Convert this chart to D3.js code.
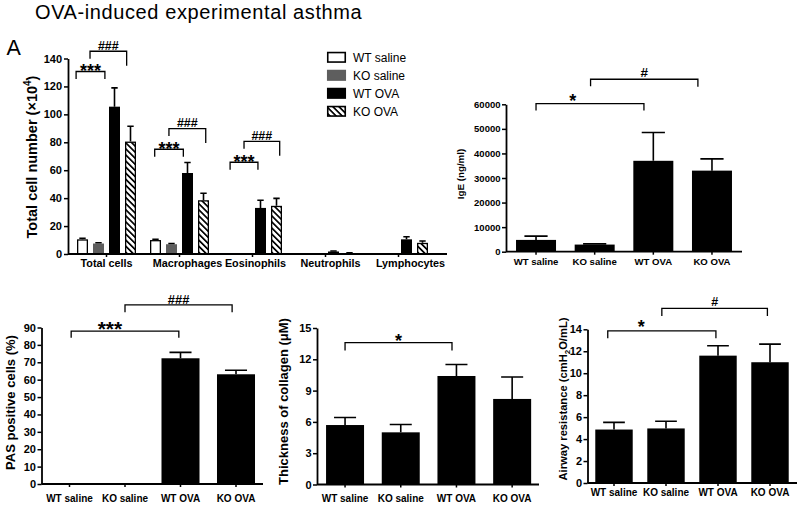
<!DOCTYPE html>
<html><head><meta charset="utf-8">
<script src="https://cdn.jsdelivr.net/npm/d3@7"></script>
<style>
body{margin:0;background:#fff}
svg{display:block}
text{font-family:"Liberation Sans",Arial,Helvetica,sans-serif;fill:#000}
</style>
</head><body>
<svg id="c" width="800" height="507"></svg>
<script>
// ---------------- DATA ----------------
const groups = ["WT saline", "KO saline", "WT OVA", "KO OVA"];
const cellTypes = ["Total cells", "Macrophages", "Eosinophils", "Neutrophils", "Lymphocytes"];
const cellWtSaline = [10.5, 10, 0, 0, 0.3];
const cellKoSaline = [7.5, 7, 0, 0, 0.3];
const cellWtOva = [105.5, 58, 33, 1.8, 10.5];
const cellKoOva = [80.5, 38.5, 34.5, 0.6, 8];
const cellWtSalineSem = [0.8, 0.6, 0, 0, 0];
const cellKoSalineSem = [0.6, 0.5, 0, 0, 0];
const cellWtOvaSem = [13.5, 7.5, 5.5, 0.4, 1.8];
const cellKoOvaSem = [11, 5, 5.3, 0.2, 1.3];
const cellTicks = [0, 20, 40, 60, 80, 100, 120, 140];

const igeMean = [4800, 2900, 37000, 33000];
const igeSem = [1550, 300, 11500, 4800];
const igeTicks = [0, 10000, 20000, 30000, 40000, 50000, 60000];

const pasMean = [0, 0, 72.3, 63.1];
const pasSem = [0, 0, 3.4, 2.3];
const pasTicks = [0, 10, 20, 30, 40, 50, 60, 70, 80, 90];

const collagenMean = [5.7, 5.0, 10.4, 8.2];
const collagenSem = [0.72, 0.75, 1.1, 2.1];
const collagenTicks = [0, 3, 6, 9, 12, 15];

const airwayMean = [4.87, 4.97, 11.6, 11.0];
const airwaySem = [0.65, 0.66, 0.9, 1.65];
const airwayTicks = [0, 2, 4, 6, 8, 10, 12, 14];

// significance brackets: from/to in bar-index units, level in data units
const cellBrackets = [
  {cat: 0, from: -0.4, to: 1.4, level: 130.7, sym: "***", at: 0.5},
  {cat: 0, from: 0.47, to: 2.76, level: 145.2, sym: "###", at: 0.5},
  {cat: 1, from: -0.05, to: 1.74, level: 75, sym: "***", at: 0.5},
  {cat: 1, from: 0.84, to: 3.14, level: 89.8, sym: "###", at: 0.5},
  {cat: 2, from: 0.1, to: 1.84, level: 65.7, sym: "***", at: 0.5},
  {cat: 2, from: 0.97, to: 3.2, level: 80.7, sym: "###", at: 0.5}
];
const igeBrackets = [
  {from: 0, to: 1.84, level: 60300, sym: "*", at: 0.34},
  {from: 0.93, to: 2.76, level: 70200, sym: "#", at: 0.5}
];
const pasBrackets = [
  {from: 0.03, to: 1.97, level: 87.9, sym: "***", at: 0.36},
  {from: 1.0, to: 2.93, level: 103, sym: "###", at: 0.5}
];
const collagenBrackets = [
  {from: 0, to: 1.92, level: 13.6, sym: "*", at: 0.5}
];
const airwayBrackets = [
  {from: -0.12, to: 1.96, level: 13.85, sym: "*", at: 0.31},
  {from: 0.92, to: 2.95, level: 15.9, sym: "#", at: 0.5}
];

// ---------------- STYLE ----------------
const groupFills = ["#ffffff", "#5e5e5e", "#000000", "url(#hatch)"];
const groupStrokes = ["#000", "none", "none", "#000"];
const cellLabelDx = [0, 8, 3, 5, 12];

const svg = d3.select("#c");
const defs = svg.append("defs");
const pat = defs.append("pattern").attr("id", "hatch").attr("patternUnits", "userSpaceOnUse")
  .attr("width", 4.3).attr("height", 4.3).attr("patternTransform", "rotate(-45)");
pat.append("rect").attr("width", 4.3).attr("height", 4.3).attr("fill", "#fff");
pat.append("rect").attr("x", 0).attr("width", 1.7).attr("height", 4.3).attr("fill", "#000");

// title
svg.append("text").attr("x", 35).attr("y", 19).attr("font-size", 20).attr("letter-spacing", 0.6)
  .attr("fill", "#111").text("OVA-induced experimental asthma");
svg.append("text").attr("x", 6.5).attr("y", 55).attr("font-size", 21.5).text("A");

function styleAxis(g, fs) {
  g.selectAll("text").attr("font-size", fs).attr("font-weight", "bold").attr("fill", "#000")
    .attr("font-family", '"Liberation Sans",Arial,sans-serif');
  g.selectAll(".tick line").attr("stroke", "#000").attr("stroke-width", 1.5);
  g.select(".domain").attr("stroke", "#000").attr("stroke-width", 1.8);
}

function drawBars(g, xPos, width, y, values, sems, fill, stroke) {
  values.forEach((v, i) => {
    const x0 = xPos(i);
    if (v > 0) {
      const sw = stroke === "none" ? 0 : 1.3;
      g.append("rect").attr("x", x0 + sw / 2).attr("y", y(v) + sw / 2)
        .attr("width", Math.max(0, width - sw)).attr("height", Math.max(0, y(0) - y(v) - sw / 2))
        .attr("fill", fill).attr("stroke", stroke).attr("stroke-width", sw);
    }
    const s = sems[i];
    if (s > 0) {
      const cx = x0 + width / 2, cw = width * 0.58;
      g.append("path").attr("d", `M${cx},${y(v)}V${y(v + s)}M${cx - cw / 2},${y(v + s)}H${cx + cw / 2}`)
        .attr("stroke", "#000").attr("stroke-width", 1.6).attr("fill", "none");
    }
  });
}

function drawBrackets(g, list, xAt, y, st) {
  list.forEach(b => {
    const x1 = xAt(b, b.from), x2 = xAt(b, b.to), yb = y(b.level);
    const isStar = b.sym[0] === "*";
    const s = isStar ? st.star : st.hash;
    g.append("path").attr("d", `M${x1},${yb + s.tipL}V${yb}H${x2}V${yb + s.tipR}`)
      .attr("fill", "none").attr("stroke", "#000").attr("stroke-width", 1.3);
    const cy = yb - s.gap;
    const base = cy + (isStar ? 0.575 : 0.355) * s.size;
    g.append("text").attr("x", x1 + (x2 - x1) * b.at).attr("y", base).attr("text-anchor", "middle")
      .attr("font-weight", "bold").attr("font-size", s.size).text(b.sym);
  });
}

// ---------------- PANEL A: cell counts ----------------
(function () {
  const g = svg.append("g");
  const axisX = 68, axisEnd = 447;
  const x = d3.scaleBand().domain(cellTypes).range([70, 435]);
  const xi = d3.scaleBand().domain(groups).range([4.5, 68.5]).paddingInner(0.3125).paddingOuter(0.15625);
  const y = d3.scaleLinear().domain([0, 140]).range([254, 58.5]);
  const series = [cellWtSaline, cellKoSaline, cellWtOva, cellKoOva];
  const sems = [cellWtSalineSem, cellKoSalineSem, cellWtOvaSem, cellKoOvaSem];
  series.forEach((vals, s) => {
    drawBars(g, i => x(cellTypes[i]) + xi(groups[s]), xi.bandwidth(), y, vals, sems[s], groupFills[s], groupStrokes[s]);
  });
  // x axis
  g.append("line").attr("x1", axisX).attr("x2", axisEnd).attr("y1", y(0)).attr("y2", y(0))
    .attr("stroke", "#000").attr("stroke-width", 1.8);
  const xa = g.append("g").attr("transform", `translate(0,${y(0)})`)
    .call(d3.axisBottom(x).tickSize(3).tickSizeOuter(0).tickPadding(2.2));
  styleAxis(xa, 10.8);
  xa.select(".domain").remove();
  xa.selectAll(".tick text").attr("dx", (d, i) => cellLabelDx[i]);
  // y axis
  const ya = g.append("g").attr("transform", `translate(${axisX},0)`)
    .call(d3.axisLeft(y).tickValues(cellTicks).tickSize(4).tickSizeOuter(0).tickPadding(2));
  styleAxis(ya, 11);
  const lab = g.append("text").attr("transform", `translate(37,157) rotate(-90)`).attr("text-anchor", "middle")
    .attr("font-weight", "bold").attr("font-size", 14.5);
  lab.append("tspan").text("Total cell number (\u00d710");
  lab.append("tspan").attr("dy", -6).attr("font-size", 10).text("4");
  lab.append("tspan").attr("dy", 6).text(")");
  drawBrackets(g, cellBrackets,
    (b, pos) => x(cellTypes[b.cat]) + xi(groups[0]) + xi.bandwidth() / 2 + pos * xi.step(), y,
    {star: {size: 18, gap: 5, tipL: 7.5, tipR: 7.5}, hash: {size: 12.5, gap: 6, tipL: 7.5, tipR: 14.5}});
  // legend
  const lg = g.append("g");
  groups.forEach((name, i) => {
    const cy = 57.3 + i * 18;
    lg.append("rect").attr("x", 327.75).attr("y", cy - 4.75).attr("width", 17.5).attr("height", 9.5)
      .attr("fill", groupFills[i]).attr("stroke", i === 1 ? "#5e5e5e" : "#000").attr("stroke-width", 1.6);
    lg.append("text").attr("x", 353).attr("y", cy + 4.3).attr("font-size", 12).text(name);
  });
})();

// ---------------- generic 4-bar panel ----------------
function simplePanel(o) {
  const g = svg.append("g");
  const x = d3.scaleBand().domain(groups).range(o.xRange).paddingInner(o.pad).paddingOuter(o.pad / 2);
  const y = d3.scaleLinear().domain([0, o.ticks[o.ticks.length - 1]]).range(o.yRange);
  o.means.forEach((v, i) => {
    drawBars(g, k => x(groups[k]), x.bandwidth(), y, o.means.map((m, k) => k === i ? m : 0),
      o.sems.map((m, k) => k === i ? m : 0), "#000", "none");
  });
  g.append("line").attr("x1", o.axisX).attr("x2", o.axisEnd).attr("y1", y(0)).attr("y2", y(0))
    .attr("stroke", "#000").attr("stroke-width", 1.8);
  const xa = g.append("g").attr("transform", `translate(0,${y(0)})`)
    .call(d3.axisBottom(x).tickSize(3).tickSizeOuter(0).tickPadding(o.catPad));
  styleAxis(xa, o.catFont);
  xa.select(".domain").remove();
  const ya = g.append("g").attr("transform", `translate(${o.axisX},0)`)
    .call(d3.axisLeft(y).tickValues(o.ticks).tickSize(4).tickSizeOuter(0).tickPadding(1.5).tickFormat(d3.format("d")));
  styleAxis(ya, o.tickFont);
  const lab = g.append("text").attr("transform", `translate(${o.labelPos[0]},${o.labelPos[1]}) rotate(-90)`)
    .attr("text-anchor", "middle").attr("font-weight", "bold").attr("font-size", o.labelSize);
  o.label(lab);
  const c0 = x(groups[0]) + x.bandwidth() / 2;
  drawBrackets(g, o.brackets, (b, pos) => c0 + pos * x.step(), y, o.bstyle);
}

// IgE
simplePanel({
  means: igeMean, sems: igeSem, ticks: igeTicks,
  xRange: [506.7, 741.3], pad: 0.318, yRange: [251.7, 104.3], axisX: 506, axisEnd: 742,
  catFont: 9.6, catPad: 3.5, tickFont: 9.5, labelSize: 9.8, labelPos: [464, 174],
  label: t => t.text("IgE (ng/ml)"),
  brackets: igeBrackets,
  bstyle: {star: {size: 18, gap: 7, tipL: 7, tipR: 7}, hash: {size: 13.5, gap: 7.3, tipL: 7, tipR: 7.5}}
});

// PAS
simplePanel({
  means: pasMean, sems: pasSem, ticks: pasTicks,
  xRange: [41.75, 263.75], pad: 0.315, yRange: [484, 327.5], axisX: 41.5, axisEnd: 263,
  catFont: 10, catPad: 7.5, tickFont: 11, labelSize: 13, labelPos: [14.5, 402.5],
  label: t => t.text("PAS positive cells (%)"),
  brackets: pasBrackets,
  bstyle: {star: {size: 21, gap: 7.2, tipL: 6.5, tipR: 6.5}, hash: {size: 13, gap: 5.5, tipL: 7.3, tipR: 7.3}}
});

// Collagen
simplePanel({
  means: collagenMean, sems: collagenSem, ticks: collagenTicks,
  xRange: [317.2, 540], pad: 0.318, yRange: [484.5, 328], axisX: 317, axisEnd: 539,
  catFont: 10, catPad: 7.5, tickFont: 11, labelSize: 13, labelPos: [288, 401.5],
  label: t => t.text("Thickness of collagen (\u03bcM)"),
  brackets: collagenBrackets,
  bstyle: {star: {size: 18, gap: 6, tipL: 8, tipR: 8}, hash: {size: 13, gap: 6, tipL: 7, tipR: 7}}
});

// Airway
simplePanel({
  means: airwayMean, sems: airwaySem, ticks: airwayTicks,
  xRange: [588, 796], pad: 0.28, yRange: [483, 329.3], axisX: 587.5, axisEnd: 797,
  catFont: 10, catPad: 2.5, tickFont: 11, labelSize: 11.2, labelPos: [567, 399],
  label: t => {
    t.append("tspan").text("Airway resistance (cmH");
    t.append("tspan").attr("dy", 3).attr("font-size", 8).text("2");
    t.append("tspan").attr("dy", -3).text("O/mL)");
  },
  brackets: airwayBrackets,
  bstyle: {star: {size: 18, gap: 8, tipL: 7.3, tipR: 7.3}, hash: {size: 12.5, gap: 6.8, tipL: 7.5, tipR: 7.5}}
});
</script>
</body></html>
